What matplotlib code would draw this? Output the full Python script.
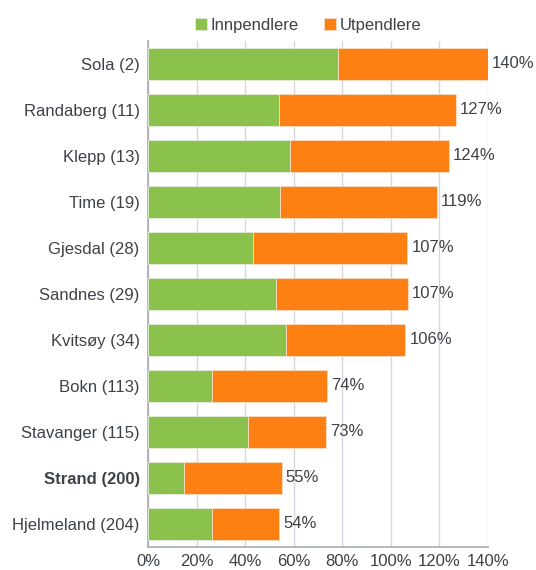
import matplotlib.pyplot as plt

plt.rcParams['font.family'] = ['Liberation Sans', 'DejaVu Sans']

kommuner = ['Sola (2)', 'Randaberg (11)', 'Klepp (13)', 'Time (19)', 'Gjesdal (28)',
            'Sandnes (29)', 'Kvitsøy (34)', 'Bokn (113)', 'Stavanger (115)',
            'Strand (200)', 'Hjelmeland (204)']
innpendlere = [78.3, 54.0, 58.5, 54.4, 43.1, 52.8, 56.7, 26.2, 41.2, 14.8, 26.2]
utpendlere = [61.7, 72.8, 65.4, 64.5, 63.8, 54.2, 49.3, 47.6, 32.0, 40.3, 27.9]
totalt = [140, 127, 124, 119, 107, 107, 106, 74, 73, 55, 54]
xticks = [0, 20, 40, 60, 80, 100, 120, 140]

green = '#8BC24C'
orange = '#FF8012'
textc = '#3d4247'
fs = 12

fig = plt.figure(figsize=(5.36, 5.70), dpi=100)
ax = fig.add_axes([0.2761, 0.0404, 0.6338, 0.8877])

y = list(range(len(kommuner)))
ax.barh(y, innpendlere, height=0.7, color=green, edgecolor='#e6eddd', linewidth=0.6,
        label='Innpendlere', zorder=3)
ax.barh(y, utpendlere, left=innpendlere, height=0.7, color=orange, edgecolor='#f5dcc4',
        linewidth=0.6, label='Utpendlere', zorder=3)

for yi, a, b, t in zip(y, innpendlere, utpendlere, totalt):
    ax.annotate(f'{t}%', (a + b, yi), xytext=(3, 0), textcoords='offset points',
                va='center', ha='left', fontsize=fs, color=textc)

ax.set_xlim(0, 140)
ax.set_ylim(len(kommuner) - 0.5, -0.5)
ax.set_xticks(xticks)
ax.set_xticklabels([f'{v}%' for v in xticks], fontsize=fs, color=textc)
ax.set_yticks(y)
ax.set_yticklabels(kommuner, fontsize=fs, color=textc)
for lab in ax.get_yticklabels():
    if lab.get_text().startswith('Strand'):
        lab.set_fontweight('bold')
ax.tick_params(axis='both', length=0)
ax.tick_params(axis='y', pad=6)
ax.tick_params(axis='x', pad=5)

ax.grid(axis='x', color='#d3d8de', linewidth=1, zorder=0)
for s in ['top', 'right']:
    ax.spines[s].set_visible(False)
for s in ['left', 'bottom']:
    ax.spines[s].set_color('#a3abb4')
    ax.spines[s].set_linewidth(1.2)

fig.legend(loc='upper center', bbox_to_anchor=(0.575, 0.995), ncol=2, frameon=False,
           fontsize=fs, handlelength=0.7, handleheight=0.7, handletextpad=0.25,
           columnspacing=1.5, labelcolor=textc)

fig.savefig('out.png', dpi=100)
